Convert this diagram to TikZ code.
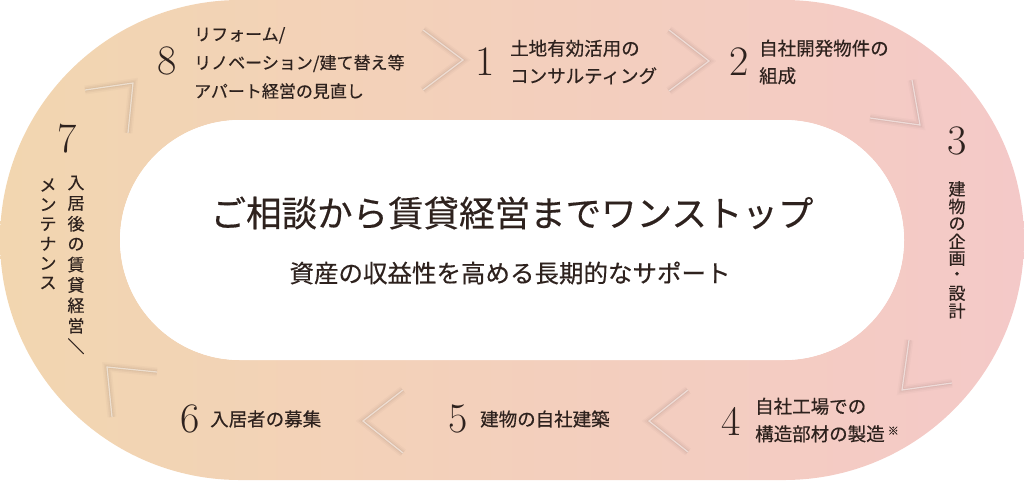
\documentclass[tikz,border=0pt]{standalone}
\usepackage{fontspec}
\newfontfamily\jp[FakeBold=0.4]{Noto Sans CJK JP}
\definecolor{ink}{RGB}{46,34,30}
\definecolor{beige}{RGB}{242,214,176}
\definecolor{rose}{RGB}{244,201,200}
\tikzset{
  jpbase/.style={text=ink, inner sep=0pt},
  num/.style={text=ink, inner sep=0pt, font=\fontsize{42}{42}\selectfont},
  lbl/.style={text=ink, inner sep=0pt, anchor=west, align=left, font=\jp\fontsize{18.5}{27.5}\selectfont},
  vch/.style={jpbase, font=\jp\fontsize{17}{17}\selectfont},
  chevshadow/.style={draw=ink, line join=miter, line cap=butt},
  chevlight/.style={draw=white, draw opacity=0.5, line width=1.2pt, line join=miter},
}
\newcommand{\chevron}[4]{%
  \begin{scope}[shift={#4}]
  \draw[chevshadow, line width=9pt, draw opacity=0.025] (#1) -- (#2) -- (#3);
  \draw[chevshadow, line width=6pt, draw opacity=0.035] (#1) -- (#2) -- (#3);
  \draw[chevshadow, line width=3pt, draw opacity=0.05] (#1) -- (#2) -- (#3);
  \end{scope}
  \draw[chevlight] (#1) -- (#2) -- (#3);
}
\begin{document}
\begin{tikzpicture}[x=1pt, y=-1pt]
\useasboundingbox (0,0) rectangle (1024,480);
% ring
\shade[left color=beige, right color=rose, even odd rule]
  [rounded corners=240pt] (0,0) rectangle (1024,480)
  [rounded corners=120pt] (120,120) rectangle (904,360);
\fill[white, rounded corners=120pt] (120,120) rectangle (904,360);

% chevron coordinates
\coordinate (a81) at (423,30); \coordinate (v81) at (463,60); \coordinate (b81) at (423,90);
\coordinate (a12) at (669,30); \coordinate (v12) at (709,61); \coordinate (b12) at (669,91);
\coordinate (a23) at (912,80); \coordinate (v23) at (920,125); \coordinate (b23) at (870,118);
\coordinate (a34) at (909,340); \coordinate (v34) at (902,390); \coordinate (b34) at (952,383);
\coordinate (a45) at (688,390); \coordinate (v45) at (649,421); \coordinate (b45) at (688,452);
\coordinate (a56) at (403,390); \coordinate (v56) at (363,421); \coordinate (b56) at (403,453);
\coordinate (a67) at (157,372); \coordinate (v67) at (107,367); \coordinate (b67) at (112,417);
\coordinate (a78) at (85,90); \coordinate (v78) at (133,83); \coordinate (b78) at (128,133);
\chevron{a81}{v81}{b81}{(-3,0)}
\chevron{a12}{v12}{b12}{(-3,0)}
\chevron{a23}{v23}{b23}{(-2,-2)}
\chevron{a34}{v34}{b34}{(2,-2)}
\chevron{a45}{v45}{b45}{(3,0)}
\chevron{a56}{v56}{b56}{(3,0)}
\chevron{a67}{v67}{b67}{(2,2)}
\chevron{a78}{v78}{b78}{(-2,2)}

% center text
\node[jpbase, font=\jp\fontsize{35.5}{35.5}\selectfont] (title) at (512,213) {ご相談から賃貸経営までワンストップ};
\node[jpbase, font=\jp\fontsize{24.5}{24.5}\selectfont] (sub) at (510,273) {資産の収益性を高める長期的なサポート};

% step 8
\node[num] (n8) at (167,61) {8};
\node[lbl, font=\jp\fontsize{17}{28.5}\selectfont] (t8) at (194,63) {リフォーム/\\リノベーション/建て替え等\\アパート経営の見直し};
% step 1
\node[num] (n1) at (485,62) {1};
\node[lbl] (t1) at (510,62) {土地有効活用の\\コンサルティング};
% step 2
\node[num] (n2) at (739,62) {2};
\node[lbl] (t2) at (759,62) {自社開発物件の\\組成};
% step 3
\node[num] (n3) at (957,141) {3};
\foreach \c [count=\i from 0] in {建,物,の,企,画,・,設,計}
  \node[vch] (v3-\i) at (957,189+17.4*\i) {\c};
% step 4
\node[num] (n4) at (731,421) {4};
\node[lbl] (t4) at (755,420) {自社工場での\\構造部材の製造\,\raisebox{6pt}{\fontsize{11}{11}\selectfont ※}};
% step 5
\node[num] (n5) at (458,419) {5};
\node[lbl] (t5) at (480,419) {建物の自社建築};
% step 6
\node[num] (n6) at (190,419) {6};
\node[lbl] (t6) at (210,419) {入居者の募集};
% step 7
\node[num] (n7) at (67,139) {7};
\foreach \c [count=\i from 0] in {入,居,後,の,賃,貸,経,営,＼}
  \node[vch] (v7a-\i) at (76,183+20.4*\i) {\c};
\foreach \c [count=\i from 0] in {メ,ン,テ,ナ,ン,ス}
  \node[vch] (v7b-\i) at (48,185+19.6*\i) {\c};
\end{tikzpicture}
\end{document}
